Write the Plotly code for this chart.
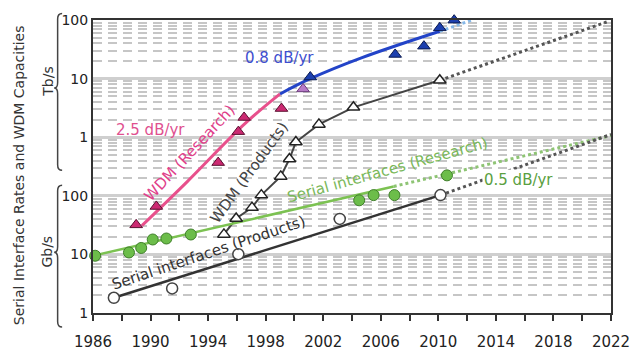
import plotly.graph_objects as go

# ---- data (rates in Gb/s) ----
wdm_res_years = [1989.0, 1990.4, 1994.7, 1996.1, 1996.5, 1999.1]
wdm_res_vals = [32, 66, 370, 1250, 2180, 3100]

wdm_res_mid_years = [2000.6]
wdm_res_mid_vals = [6700]

wdm_res_late_years = [2001.1, 2007.0, 2009.0, 2010.1, 2011.1]
wdm_res_late_vals = [10700, 26000, 36000, 74000, 100000]

wdm_prod_years = [1995.1, 1995.95, 1997.05, 1997.7, 1999.05, 1999.65, 2000.1, 2001.7, 2004.1, 2010.1]
wdm_prod_vals = [22, 41, 63, 103, 215, 425, 830, 1660, 3250, 9400]

ser_res_years = [1986.15, 1988.5, 1989.35, 1990.15, 1991.1, 1992.8, 2004.5, 2005.5, 2006.95, 2010.6]
ser_res_vals = [9.5, 10.8, 12.9, 18, 18.7, 21.9, 84, 103, 103, 224]

ser_prod_years = [1987.45, 1991.5, 1996.1, 2003.15, 2010.15]
ser_prod_vals = [1.82, 2.63, 10.1, 40.4, 103]

# trend curves
wdm_res_fit_years = [1989.4, 1992.5, 1996.5, 1999.0]
wdm_res_fit_vals = [31, 170, 1660, 5500]
wdm_late_fit_years = [1999.0, 2001.1, 2004.7, 2010.1]
wdm_late_fit_vals = [5500, 10000, 22900, 64600]
wdm_late_ext_years = [2010.1, 2012.3]
wdm_late_ext_vals = [64600, 100000]

wdm_prod_ext_years = [2010.1, 2021.7]
wdm_prod_ext_vals = [9400, 93000]

ser_res_fit_years = [1986.0, 2006.9]
ser_res_fit_vals = [9.5, 145]
ser_res_ext_years = [2006.9, 2022.0]
ser_res_ext_vals = [145, 1070]

ser_prod_fit_years = [1987.45, 2010.15]
ser_prod_fit_vals = [1.82, 103]
ser_prod_ext_years = [2010.15, 2022.0]
ser_prod_ext_vals = [103, 1120]

y_tick_vals = [1, 10, 100, 1000, 10000, 100000]
y_tick_text = ["1", "10", "100", "1", "10", "100"]
x_tick_vals = list(range(1986, 2023, 4))

FONT = "DejaVu Sans"
PINK_LINE = "#e8508c"
PINK = "#cc2a72"
BLUE = "#2344c8"
GREEN_LINE = "#7cc252"
GREEN = "#6cbd4a"
DARK = "#333333"

fig = go.Figure()


def line(x, y, color, width, dash="solid", shape="linear"):
    fig.add_trace(go.Scatter(x=x, y=y, mode="lines", hoverinfo="skip",
                             line=dict(color=color, width=width, dash=dash, shape=shape)))


def marks(x, y, symbol, fill, edge, ew=1.0, size=11):
    fig.add_trace(go.Scatter(x=x, y=y, mode="markers", cliponaxis=False,
                             marker=dict(symbol=symbol, size=size, color=fill,
                                         line=dict(color=edge, width=ew))))


# trend lines
line(wdm_res_fit_years, wdm_res_fit_vals, PINK_LINE, 3, shape="spline")
line(wdm_late_fit_years, wdm_late_fit_vals, BLUE, 3, shape="spline")
line(wdm_late_ext_years, wdm_late_ext_vals, "#86b8e8", 3, dash="dot")
line(wdm_prod_years, wdm_prod_vals, "#444444", 2)
line(wdm_prod_ext_years, wdm_prod_ext_vals, "#555555", 3, dash="dot")
line(ser_res_fit_years, ser_res_fit_vals, GREEN_LINE, 2.5)
line(ser_res_ext_years, ser_res_ext_vals, "#8ec474", 3, dash="dot")
line(ser_prod_fit_years, ser_prod_fit_vals, DARK, 2.5)
line(ser_prod_ext_years, ser_prod_ext_vals, "#555555", 3, dash="dot")

# data points
marks(ser_prod_years, ser_prod_vals, "circle", "white", "#444444", 1.5)
marks(ser_res_years, ser_res_vals, "circle", GREEN, "#3f7f2a", 1.0)
marks(wdm_prod_years, wdm_prod_vals, "triangle-up", "white", "#222222", 1.5)
marks(wdm_res_years, wdm_res_vals, "triangle-up", PINK, "#5a1030", 1.0)
marks(wdm_res_mid_years, wdm_res_mid_vals, "triangle-up", "#b77ac8", "#6a3a7a", 1.0)
marks(wdm_res_late_years, wdm_res_late_vals, "triangle-up", "#1c3fae", "#0a1a50", 1.0)

# plot-area geometry (pixels) for paper-space decorations
W, H = 642, 363
L, R, T, B = 93, 29, 14, 35
PW, PH = W - L - R, H - T - B


def px(x):
    return (x - L) / PW


def py(y):
    return (H - B - y) / PH


ann = []


def label(text, x, y, color, angle=0, size=15, bg=None):
    a = dict(text=text, x=x, y=y, xref="x", yref="y", showarrow=False,
             textangle=angle, font=dict(family=FONT, size=size, color=color),
             xanchor="center", yanchor="middle")
    if bg:
        a["bgcolor"] = bg
    ann.append(a)


label("0.8 dB/yr", 1998.95, 4.35, "#3e4fcf")
label("2.5 dB/yr", 1990.0, 3.13, "#e0508f")
label("WDM (Research)", 1992.7, 2.74, "#e0408a", -47)
label("WDM (Products)", 1996.9, 2.40, "#444444", -54)
label("Serial interfaces (Research)", 2006.5, 2.44, "#7ab85a", -15.5)
label("Serial interfaces (Products)", 1994.0, 1.03, DARK, -18.5)
label("0.5 dB/yr", 2015.6, 2.27, "#5aa040", bg="white")


def paper_label(text, x, y, size=14, color="#333333"):
    ann.append(dict(text=text, x=px(x), y=py(y), xref="paper", yref="paper",
                    showarrow=False, textangle=-90,
                    font=dict(family=FONT, size=size, color=color),
                    xanchor="center", yanchor="middle"))


paper_label("Serial Interface Rates and WDM Capacities", 19, 180, 14)
paper_label("Tb/s", 47, 80, 14)
paper_label("Gb/s", 47, 262, 14)


def brace(x_end, x_mid, x_tip, top, tip, bot):
    d = 6
    pts = [
        f"M {px(x_end)},{py(top)}",
        f"Q {px(x_mid)},{py(top)} {px(x_mid)},{py(top + d)}",
        f"L {px(x_mid)},{py(tip - d)}",
        f"Q {px(x_mid)},{py(tip)} {px(x_tip)},{py(tip)}",
        f"Q {px(x_mid)},{py(tip)} {px(x_mid)},{py(tip + d)}",
        f"L {px(x_mid)},{py(bot - d)}",
        f"Q {px(x_mid)},{py(bot)} {px(x_end)},{py(bot)}",
    ]
    return dict(type="path", xref="paper", yref="paper", path=" ".join(pts),
                line=dict(color="#444444", width=1.5))


shapes = [brace(62, 57.5, 54, 7, 87, 175), brace(62, 57.5, 54, 191, 263, 343)]

minor_y = [m * 10 ** k for k in range(0, 5) for m in range(2, 10)]

fig.update_layout(
    width=W, height=H,
    margin=dict(l=L, r=R, t=T, b=B),
    paper_bgcolor="white", plot_bgcolor="white",
    showlegend=False,
    annotations=ann, shapes=shapes,
    font=dict(family=FONT, color="#222222"),
    xaxis=dict(range=[1986, 2022], tickvals=x_tick_vals, ticks="outside",
               ticklen=6, tickwidth=2, tickcolor=DARK, showgrid=False,
               showline=True, mirror=True, linecolor=DARK, linewidth=2,
               tickfont=dict(family=FONT, size=15, color="#222222"),
               ticklabelstandoff=8, zeroline=False,
               minor=dict(dtick=2, tick0=1986, ticks="outside", ticklen=6,
                          tickwidth=2, tickcolor=DARK, showgrid=False)),
    yaxis=dict(type="log", range=[0, 5.003], tickvals=y_tick_vals, ticktext=y_tick_text,
               ticks="", showgrid=True, gridcolor="#cfcfcf", gridwidth=3,
               showline=True, mirror=True, linecolor=DARK, linewidth=2,
               tickfont=dict(family=FONT, size=14, color="#222222"),
               zeroline=False,
               minor=dict(tickmode="array", tickvals=minor_y, showgrid=True,
                          gridcolor="#c6c6c6", gridwidth=1.5, griddash="9px,6px",
                          ticks="")),
)

fig.write_html("out.html")
